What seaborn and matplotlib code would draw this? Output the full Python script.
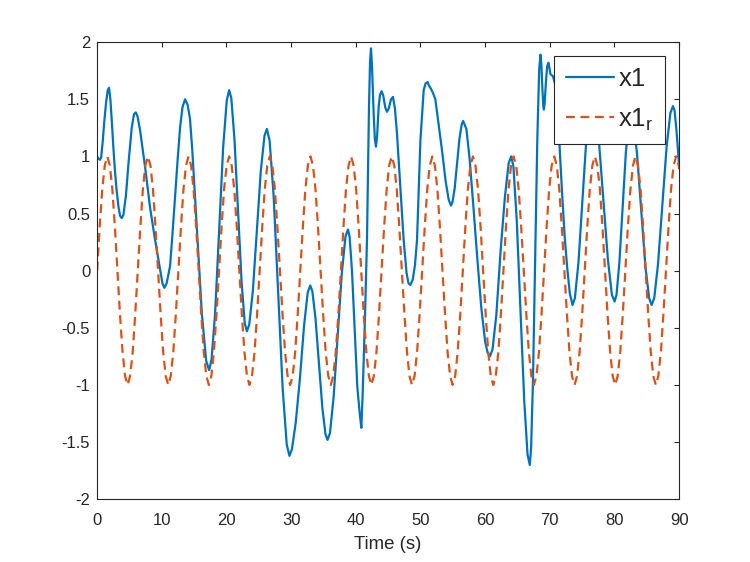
import matplotlib
matplotlib.use("Agg")
import matplotlib.pyplot as plt
import seaborn as sns
from matplotlib.ticker import MultipleLocator, FormatStrFormatter

sns.set_theme(style="white")
plt.rcParams["font.family"] = ["Liberation Sans", "DejaVu Sans"]
plt.rcParams["axes.unicode_minus"] = False

t_x1 = [
    0.00, 0.20, 0.45, 0.62, 0.85, 1.10, 1.40, 1.65, 1.84, 2.05, 2.30, 2.51, 2.75, 3.02, 3.30, 3.55,
    3.81, 4.07, 4.46, 4.85, 5.35, 5.70, 5.97, 6.25, 6.64, 7.41, 8.19, 8.96, 9.74, 10.10, 10.40, 10.75,
    11.28, 11.65, 12.06, 12.45, 12.84, 13.20, 13.60, 14.00, 14.36, 14.72, 15.46, 16.20, 16.87, 17.32,
    17.69, 18.25, 18.87, 19.49, 20.05, 20.42, 20.75, 21.24, 21.79, 22.34, 22.83, 23.16, 23.53, 24.09,
    24.71, 25.32, 25.88, 26.25, 26.67, 27.30, 28.00, 28.69, 29.32, 29.74, 30.13, 30.71, 31.35, 32.00,
    32.57, 32.96, 33.28, 33.76, 34.30, 34.83, 35.31, 35.63, 36.01, 36.58, 37.21, 37.84, 38.41, 38.79,
    39.04, 39.41, 39.83, 40.24, 40.61, 40.86, 41.05, 41.40, 41.73, 42.04, 42.20, 42.35, 42.50, 42.76,
    42.95, 43.12, 43.30, 43.53, 43.75, 44.00, 44.25, 44.55, 44.82, 45.10, 45.45, 45.75, 46.05, 46.37,
    46.89, 47.40, 47.85, 48.15, 48.44, 48.80, 49.15, 49.47, 49.99, 50.50, 50.80, 51.12, 51.30, 51.54,
    51.90, 52.30, 52.80, 53.34, 53.90, 54.37, 54.73, 54.95, 55.29, 55.67, 56.04, 56.38, 56.60, 57.10,
    57.60, 58.20, 58.80, 59.40, 60.00, 60.40, 60.75, 61.14, 61.73, 62.39, 63.05, 63.64, 64.03, 64.38,
    64.89, 65.47, 66.05, 66.56, 66.91, 67.11, 67.40, 67.74, 68.07, 68.36, 68.56, 68.70, 68.85, 69.00,
    69.08, 69.20, 69.40, 69.60, 69.80, 70.10, 70.50, 70.88, 71.20, 71.50, 71.90, 72.30, 72.70, 73.10,
    73.52, 73.88, 74.43, 75.04, 75.64, 76.19, 76.55, 76.97, 77.59, 78.29, 78.98, 79.60, 80.02, 80.32,
    80.76, 81.26, 81.76, 82.20, 82.50, 82.89, 83.48, 84.13, 84.78, 85.36, 85.75, 86.15, 86.74, 87.40,
    88.06, 88.65, 89.05, 89.30, 89.60, 90.00,
]
x1 = [
    1.00, 0.98, 0.97, 0.99, 1.12, 1.30, 1.48, 1.58, 1.60, 1.50, 1.28, 1.08, 0.88, 0.70, 0.56, 0.48,
    0.46, 0.49, 0.66, 0.94, 1.25, 1.37, 1.385, 1.35, 1.23, 0.91, 0.55, 0.27, 0.01, -0.11, -0.15, -0.11,
    0.04, 0.32, 0.65, 0.97, 1.26, 1.43, 1.50, 1.45, 1.33, 1.05, 0.33, -0.38, -0.79, -0.87,
    -0.78, -0.37, 0.36, 1.08, 1.49, 1.58, 1.51, 1.15, 0.53, -0.10, -0.46, -0.53, -0.47, -0.17,
    0.36, 0.88, 1.18, 1.24, 1.14, 0.65, -0.19, -1.03, -1.52, -1.62, -1.56, -1.33, -0.95, -0.48,
    -0.19, -0.13, -0.18, -0.41, -0.81, -1.20, -1.43, -1.48, -1.42, -1.10, -0.56, -0.02, 0.30, 0.36,
    0.30, 0.00, -0.51, -1.02, -1.25, -1.375, -1.10, -0.45, 0.27, 1.43, 1.82, 1.945, 1.80, 1.38,
    1.15, 1.085, 1.18, 1.43, 1.54, 1.57, 1.53, 1.43, 1.39, 1.42, 1.50, 1.52, 1.42, 1.20,
    0.73, 0.27, -0.02, -0.11, -0.125, -0.08, 0.05, 0.27, 1.14, 1.58, 1.64, 1.65, 1.62, 1.60,
    1.56, 1.50, 1.28, 1.05, 0.78, 0.62, 0.57, 0.60, 0.72, 0.94, 1.16, 1.28, 1.31, 1.24,
    0.98, 0.55, 0.10, -0.32, -0.62, -0.72, -0.75, -0.69, -0.39, 0.17, 0.64, 0.94, 1.00, 0.91,
    0.44, -0.35, -1.14, -1.61, -1.70, -1.55, -0.96, 0.10, 1.15, 1.76, 1.89, 1.80, 1.60, 1.44,
    1.41, 1.46, 1.65, 1.79, 1.82, 1.72, 1.70, 1.62, 1.38, 1.10, 0.68, 0.30, 0.02, -0.20,
    -0.30, -0.24, 0.07, 0.61, 1.14, 1.45, 1.51, 1.45, 1.14, 0.62, 0.10, -0.21, -0.27, -0.21,
    0.07, 0.55, 1.03, 1.31, 1.37, 1.31, 1.03, 0.54, 0.04, -0.24, -0.30, -0.24, 0.06, 0.57,
    1.08, 1.38, 1.44, 1.40, 1.22, 0.92,
]

# reference signal x1_r
t_ref = [
    0.00, 0.39, 0.79, 1.18, 1.57, 1.96, 2.36, 2.75, 3.14, 3.53, 3.93, 4.32, 4.71, 5.11, 5.50, 5.89,
    6.28, 6.68, 7.07, 7.46, 7.85, 8.25, 8.64, 9.03, 9.42, 9.82, 10.21, 10.60, 11.00, 11.39, 11.78, 12.17,
    12.57, 12.96, 13.35, 13.74, 14.14, 14.53, 14.92, 15.32, 15.71, 16.10, 16.49, 16.89, 17.28, 17.67, 18.06, 18.46,
    18.85, 19.24, 19.63, 20.03, 20.42, 20.81, 21.21, 21.60, 21.99, 22.38, 22.78, 23.17, 23.56, 23.95, 24.35, 24.74,
    25.13, 25.53, 25.92, 26.31, 26.70, 27.10, 27.49, 27.88, 28.27, 28.67, 29.06, 29.45, 29.85, 30.24, 30.63, 31.02,
    31.42, 31.81, 32.20, 32.59, 32.99, 33.38, 33.77, 34.16, 34.56, 34.95, 35.34, 35.74, 36.13, 36.52, 36.91, 37.31,
    37.70, 38.09, 38.48, 38.88, 39.27, 39.66, 40.06, 40.45, 40.84, 41.23, 41.63, 42.02, 42.41, 42.80, 43.20, 43.59,
    43.98, 44.38, 44.77, 45.16, 45.55, 45.95, 46.34, 46.73, 47.12, 47.52, 47.91, 48.30, 48.69, 49.09, 49.48, 49.87,
    50.27, 50.66, 51.05, 51.44, 51.84, 52.23, 52.62, 53.01, 53.41, 53.80, 54.19, 54.59, 54.98, 55.37, 55.76, 56.16,
    56.55, 56.94, 57.33, 57.73, 58.12, 58.51, 58.90, 59.30, 59.69, 60.08, 60.48, 60.87, 61.26, 61.65, 62.05, 62.44,
    62.83, 63.22, 63.62, 64.01, 64.40, 64.80, 65.19, 65.58, 65.97, 66.37, 66.76, 67.15, 67.54, 67.94, 68.33, 68.72,
    69.12, 69.51, 69.90, 70.29, 70.69, 71.08, 71.47, 71.86, 72.26, 72.65, 73.04, 73.43, 73.83, 74.22, 74.61, 75.01,
    75.40, 75.79, 76.18, 76.58, 76.97, 77.36, 77.75, 78.15, 78.54, 78.93, 79.33, 79.72, 80.11, 80.50, 80.90, 81.29,
    81.68, 82.07, 82.47, 82.86, 83.25, 83.64, 84.04, 84.43, 84.82, 85.22, 85.61, 86.00, 86.39, 86.79, 87.18, 87.57,
    87.96, 88.36, 88.75, 89.14, 89.54, 89.93, 90.00,
]
x1_ref = [
    0.00, 0.38, 0.71, 0.92, 1.00, 0.92, 0.71, 0.38, 0.00, -0.38, -0.71, -0.92, -1.00, -0.92, -0.71, -0.38,
    0.00, 0.38, 0.71, 0.92, 1.00, 0.92, 0.71, 0.38, 0.00, -0.38, -0.71, -0.92, -1.00, -0.92, -0.71, -0.38,
    0.00, 0.38, 0.71, 0.92, 1.00, 0.92, 0.71, 0.38, 0.00, -0.38, -0.71, -0.92, -1.00, -0.92, -0.71, -0.38,
    0.00, 0.38, 0.71, 0.92, 1.00, 0.92, 0.71, 0.38, 0.00, -0.38, -0.71, -0.92, -1.00, -0.92, -0.71, -0.38,
    0.00, 0.38, 0.71, 0.92, 1.00, 0.92, 0.71, 0.38, 0.00, -0.38, -0.71, -0.92, -1.00, -0.92, -0.71, -0.38,
    0.00, 0.38, 0.71, 0.92, 1.00, 0.92, 0.71, 0.38, 0.00, -0.38, -0.71, -0.92, -1.00, -0.92, -0.71, -0.38,
    0.00, 0.38, 0.71, 0.92, 1.00, 0.92, 0.71, 0.38, 0.00, -0.38, -0.71, -0.92, -1.00, -0.92, -0.71, -0.38,
    0.00, 0.38, 0.71, 0.92, 1.00, 0.92, 0.71, 0.38, 0.00, -0.38, -0.71, -0.92, -1.00, -0.92, -0.71, -0.38,
    0.00, 0.38, 0.71, 0.92, 1.00, 0.92, 0.71, 0.38, 0.00, -0.38, -0.71, -0.92, -1.00, -0.92, -0.71, -0.38,
    0.00, 0.38, 0.71, 0.92, 1.00, 0.92, 0.71, 0.38, 0.00, -0.38, -0.71, -0.92, -1.00, -0.92, -0.71, -0.38,
    0.00, 0.38, 0.71, 0.92, 1.00, 0.92, 0.71, 0.38, 0.00, -0.38, -0.71, -0.92, -1.00, -0.92, -0.71, -0.38,
    0.00, 0.38, 0.71, 0.92, 1.00, 0.92, 0.71, 0.38, 0.00, -0.38, -0.71, -0.92, -1.00, -0.92, -0.71, -0.38,
    0.00, 0.38, 0.71, 0.92, 1.00, 0.92, 0.71, 0.38, 0.00, -0.38, -0.71, -0.92, -1.00, -0.92, -0.71, -0.38,
    0.00, 0.38, 0.71, 0.92, 1.00, 0.92, 0.71, 0.38, 0.00, -0.38, -0.71, -0.92, -1.00, -0.92, -0.71, -0.38,
    0.00, 0.38, 0.71, 0.92, 1.00, 0.92, 0.89,
]

xticks_step = 10
yticks_step = 0.5
dark = "#262626"

fig = plt.figure(figsize=(7.5, 5.62), dpi=100)
ax = fig.add_axes([0.1295, 0.1116, 0.776, 0.8135])

sns.lineplot(x=t_x1, y=x1, ax=ax, color="#0072BD", lw=1.6, label="x1",
             estimator=None, sort=False)
sns.lineplot(x=t_ref, y=x1_ref, ax=ax, color="#D95319", lw=1.6,
             linestyle=(0, (4, 2.5)), label="x1$_\\mathregular{r}$",
             estimator=None, sort=False)

ax.set_xlim(0, 90)
ax.set_ylim(-2, 2)
ax.xaxis.set_major_locator(MultipleLocator(xticks_step))
ax.yaxis.set_major_locator(MultipleLocator(yticks_step))
ax.xaxis.set_major_formatter(FormatStrFormatter("%g"))
ax.yaxis.set_major_formatter(FormatStrFormatter("%g"))
ax.tick_params(direction="in", length=3.6, width=0.8, top=True, right=True,
               colors=dark, labelsize=12)
ax.tick_params(axis="x", pad=10)
ax.tick_params(axis="y", pad=5)
for sp in ax.spines.values():
    sp.set_color(dark)
    sp.set_linewidth(0.8)

ax.set_xlabel("Time (s)", fontsize=13.4, color=dark, labelpad=5.6)
ax.set_ylabel("")

leg = ax.legend(loc="upper right", bbox_to_anchor=(665 / 750, 1 - 55.7 / 562),
                bbox_transform=fig.transFigure, fontsize=18.5, frameon=True,
                fancybox=False, framealpha=1, edgecolor=dark,
                handlelength=1.9, handletextpad=0.15, borderpad=0.45,
                labelspacing=0.58, borderaxespad=0)
leg.get_frame().set_linewidth(0.8)

fig.savefig("out.png", dpi=100)
